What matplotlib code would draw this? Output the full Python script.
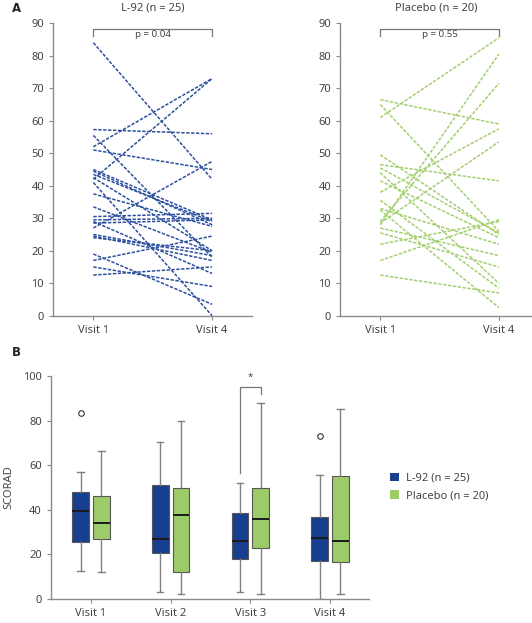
import numpy as np
import matplotlib
matplotlib.use('Agg')
import matplotlib.pyplot as plt
from matplotlib.patches import Patch

plt.rcParams['font.family'] = ['Noto Sans', 'DejaVu Sans']

# panel A: individual SCORAD, visit 1 -> visit 4
visits_a = ['Visit 1', 'Visit 4']
l92_v1 = [84, 57.3, 55.5, 52, 51, 45, 44.5, 43.5, 42.5, 42, 41, 37.5, 33.5,
          30.5, 29.5, 29, 28.5, 27, 25, 24.5, 24, 19, 17, 15, 12.5]
l92_v4 = [42, 56, 18, 73, 45, 29.5, 28, 29, 20, 73, 0, 27.5, 19.5,
          31.5, 30, 13, 29.5, 47.5, 18.5, 17, 20, 3.5, 24.5, 9, 15]
plc_v1 = [66.5, 65, 61, 49.5, 46.5, 45.5, 44, 41.5, 38, 35.5,
          33, 32.5, 29, 28, 28.5, 27, 25.5, 22, 17, 12.5]
plc_v4 = [59, 26, 85.5, 25, 41.5, 25.5, 10, 24, 57.5, 8.5,
          22, 2.5, 71.5, 80.5, 53.5, 18.5, 15, 29, 29.5, 7]

# panel B: box summaries per visit
visits_b = ['Visit 1', 'Visit 2', 'Visit 3', 'Visit 4']
l92_lo = [12.4, 3.3, 3.3, 0]
l92_q1 = [25.7, 20.6, 17.9, 16.9]
l92_med = [39.5, 27.1, 26.0, 27.5]
l92_q3 = [48.0, 51.3, 38.4, 36.9]
l92_hi = [57.1, 70.3, 52.2, 55.6]
l92_out = [[83.6], [], [], [73.1]]
plc_lo = [12.1, 2.1, 2.1, 2.1]
plc_q1 = [26.8, 12.3, 22.7, 16.6]
plc_med = [34.1, 37.5, 35.9, 26.0]
plc_q3 = [46.0, 49.6, 49.9, 55.2]
plc_hi = [66.5, 79.8, 87.7, 85.2]
plc_out = [[], [], [], []]

blue = '#183f8f'
green = '#9ccc68'
line_blue = '#2b4f9e'
line_green = '#a3d06f'
spine_c = '#8a8a8a'
txt_c = '#444444'
fs = 8

fig = plt.figure(figsize=(5.32, 6.23), dpi=100)


def style(ax):
    for s in ['top', 'right']:
        ax.spines[s].set_visible(False)
    for s in ['left', 'bottom']:
        ax.spines[s].set_color(spine_c)
        ax.spines[s].set_linewidth(1.0)
    ax.tick_params(colors=spine_c, labelcolor=txt_c, labelsize=fs, length=3, width=0.8)


def pairplot(ax, v1, v4, color, title, ptxt, xmax):
    for a, b in zip(v1, v4):
        ax.plot([0, 1], [a, b], color=color, ls=(0, (2.2, 1.0)), lw=1.1)
    ax.set_xlim(-0.34, xmax)
    ax.set_ylim(0, 90)
    ax.set_yticks(np.arange(0, 91, 10))
    ax.set_xticks([0, 1])
    ax.set_xticklabels(visits_a)
    style(ax)
    ax.plot([0, 0, 1, 1], [86.2, 88.2, 88.2, 86.2], color='#777777', lw=0.9, clip_on=False)
    ax.text(0.5, 86.5, ptxt, ha='center', va='center', fontsize=7, color=txt_c)
    ax.set_title(title, fontsize=fs, color=txt_c, pad=9)


ax1 = fig.add_axes([53 / 532, 1 - 315.7 / 623, 199 / 532, 292.4 / 623])
pairplot(ax1, l92_v1, l92_v4, line_blue, 'L-92 (n = 25)', 'p = 0.04', 1.336)

ax2 = fig.add_axes([340 / 532, 1 - 315.7 / 623, 192 / 532, 292.4 / 623])
pairplot(ax2, plc_v1, plc_v4, line_green, 'Placebo (n = 20)', 'p = 0.55', 1.28)

ax3 = fig.add_axes([50.7 / 532, 1 - 599 / 623, 318.3 / 532, 223 / 623])
pos = np.arange(1, 5)


def stats(lo, q1, med, q3, hi, out):
    return [dict(whislo=lo[i], q1=q1[i], med=med[i], q3=q3[i], whishi=hi[i], fliers=out[i])
            for i in range(len(lo))]


for st, off, col in [(stats(l92_lo, l92_q1, l92_med, l92_q3, l92_hi, l92_out), -0.13, blue),
                     (stats(plc_lo, plc_q1, plc_med, plc_q3, plc_hi, plc_out), 0.13, green)]:
    ax3.bxp(st, positions=pos + off, widths=0.21, patch_artist=True, manage_ticks=False,
            boxprops=dict(facecolor=col, edgecolor='#555555', linewidth=0.8),
            medianprops=dict(color='#1a1a1a', linewidth=1.4),
            whiskerprops=dict(color='#808080', linewidth=1.0),
            capprops=dict(color='#808080', linewidth=1.0),
            flierprops=dict(marker='o', markersize=4, markerfacecolor='white',
                            markeredgecolor='#333333', markeredgewidth=0.8),
            capwidths=0.08)

ax3.set_xlim(0.494, 4.49)
ax3.set_ylim(0, 100)
ax3.set_yticks(np.arange(0, 101, 20))
ax3.set_xticks(pos)
ax3.set_xticklabels(visits_b)
style(ax3)
ax3.set_ylabel('SCORAD', fontsize=fs, color=txt_c, labelpad=6)

# significance mark at visit 3
ax3.plot([3 - 0.13, 3 - 0.13, 3 + 0.13, 3 + 0.13], [56.4, 95.2, 95.2, 91.8],
         color='#777777', lw=0.9, clip_on=False)
ax3.text(3, 99.5, '*', ha='center', va='center', fontsize=7, color=txt_c)

handles = [Patch(facecolor=blue, edgecolor='none', label='L-92 (n = 25)'),
           Patch(facecolor=green, edgecolor='none', label='Placebo (n = 20)')]
fig.legend(handles=handles, loc='center left', bbox_to_anchor=(380 / 532, 1 - 487 / 623),
           frameon=False, fontsize=fs, labelcolor=txt_c, handlelength=0.8, handleheight=0.8,
           handletextpad=0.6, labelspacing=0.6)

fig.text(12 / 532, 1 - 8 / 623, 'A', fontsize=8.5, fontweight='bold', family='DejaVu Sans',
         color='#222222', va='center')
fig.text(12 / 532, 1 - 353 / 623, 'B', fontsize=8.5, fontweight='bold', family='DejaVu Sans',
         color='#222222', va='center')

fig.savefig('out.png', dpi=100)
